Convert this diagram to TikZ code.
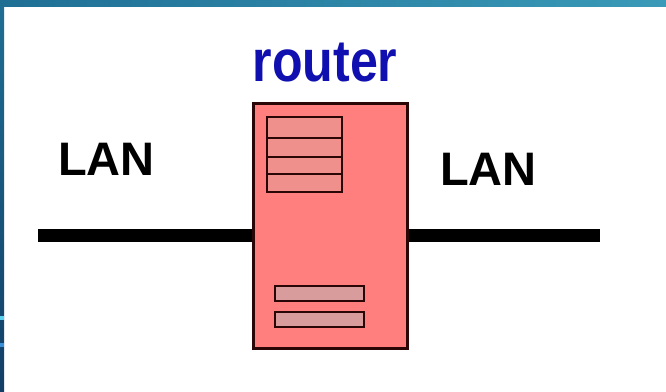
\documentclass[tikz,border=0pt]{standalone}
\usepackage{fontspec}
\setmainfont{Liberation Sans}
\definecolor{bandA}{HTML}{1F6F94}
\definecolor{bandB}{HTML}{3A9AB8}
\definecolor{bandC}{HTML}{123E66}
\definecolor{markA}{HTML}{5AD0F0}
\definecolor{markB}{HTML}{3A90D8}
\definecolor{salmon}{HTML}{FF7E7E}
\definecolor{slot}{HTML}{F0908C}
\definecolor{bar}{HTML}{D89C9C}
\definecolor{edge}{HTML}{2A0606}
\definecolor{routerblue}{HTML}{1010B0}
\begin{document}
\begin{tikzpicture}[x=1pt,y=-1pt,
  lan/.style={line width=13pt,black},
  body/.style={draw=edge,fill=salmon,line width=3pt,rectangle,inner sep=0pt},
  slotbox/.style={draw=edge,fill=slot,line width=2.8pt},
  barbox/.style={draw=edge,fill=bar,line width=2.8pt},
  lbl/.style={inner sep=0pt,anchor=base,font=\bfseries\fontsize{47}{47}\selectfont}]
\useasboundingbox (0,0) rectangle (666,391);
\fill[white] (0,0) rectangle (666,391);
% slide border
\shade[left color=bandA,right color=bandB] (0,0) rectangle (666,6);
\shade[top color=bandA,bottom color=bandC] (0,0) rectangle (4,391);
\fill[markA] (0,316) rectangle (4,320);
\fill[markB] (0,343) rectangle (4,347);
% router body
\node[body,minimum width=154pt,minimum height=245pt] (box) at (330,225.5) {};
% slots at top
\draw[slotbox] (267,117) rectangle (342,138);
\draw[slotbox] (267,138) rectangle (342,157);
\draw[slotbox] (267,157) rectangle (342,174);
\draw[slotbox] (267,174) rectangle (342,192);
% bars at bottom
\draw[barbox] (275,286) rectangle (364,301);
\draw[barbox] (275,312) rectangle (364,327);
% LAN lines
\coordinate (lend) at (38,235);
\coordinate (rend) at (600,235);
\draw[lan] (lend) -- (box.west |- lend);
\draw[lan] (box.east |- rend) -- (rend);
% labels
\node[lbl,text=routerblue,font=\bfseries\fontsize{59}{59}\selectfont,xscale=0.85] (rt) at (325,81) {router};
\node[lbl] (lanl) at (106.5,175) {LAN};
\node[lbl] (lanr) at (488.5,185) {LAN};
\end{tikzpicture}
\end{document}
